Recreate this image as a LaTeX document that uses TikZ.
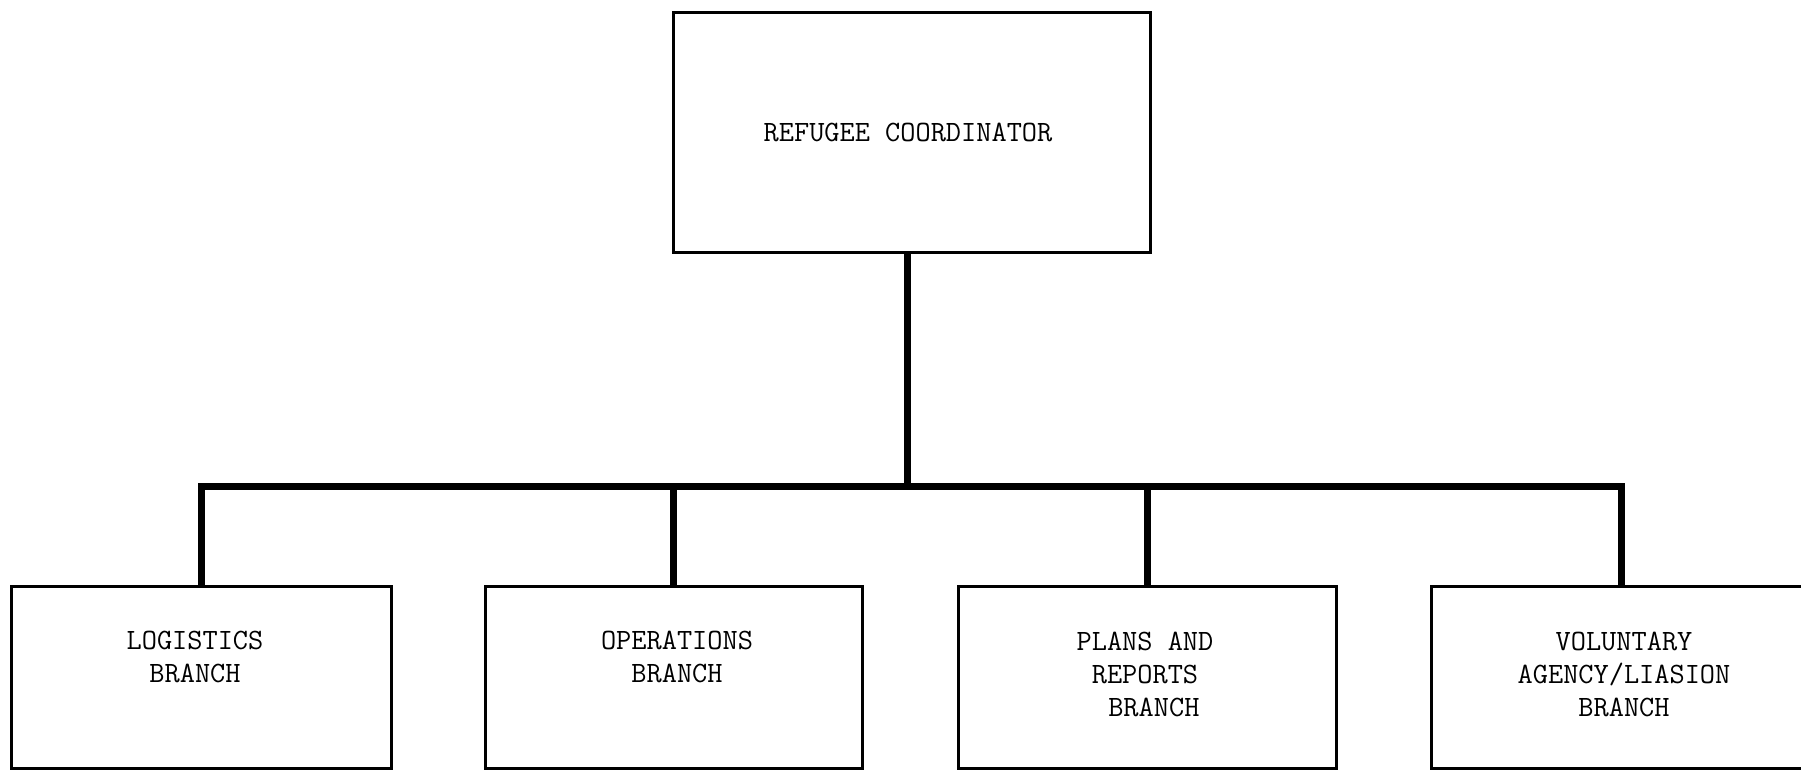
\documentclass[tikz,border=0pt]{standalone}
\begin{document}
\begin{tikzpicture}[x=1pt,y=-1pt,
  box/.style={draw=black,line width=3pt,rectangle,inner sep=0pt},
  conn/.style={draw=black,line width=7pt,line join=miter},
  lbl/.style={font=\ttfamily\fontsize{29.5}{33}\selectfont,align=center,inner sep=0pt}]
\useasboundingbox (0,0) rectangle (1801,771);
\clip (0,0) rectangle (1801,771);
% boxes
\node[box,minimum width=477pt,minimum height=240pt] (top) at (911.5,132) {};
\node[box,minimum width=380pt,minimum height=182pt] (log) at (201.5,677) {};
\node[box,minimum width=377pt,minimum height=182pt] (ops) at (673.5,677) {};
\node[box,minimum width=378pt,minimum height=182pt] (pla) at (1147,677) {};
\node[box,minimum width=380pt,minimum height=182pt] (vol) at (1621,677) {};
% labels
\node[lbl] (ttop) at (908,132) {REFUGEE COORDINATOR};
\node[lbl] (tlog) at (195,657) {LOGISTICS\\BRANCH};
\node[lbl] (tops) at (677,657) {OPERATIONS\\BRANCH};
\node[lbl] (tpla) at (1145,674) {PLANS AND\\REPORTS\\\hspace*{0.6em}BRANCH};
\node[lbl] (tvol) at (1624,674) {VOLUNTARY\\AGENCY/LIASION\\BRANCH};
% connectors
\coordinate (j) at (907,486);
\draw[conn] (top.south -| j) -- (j);
\draw[conn] (log.north) -- (log.north |- j) -- (vol.north |- j) -- (vol.north);
\draw[conn] (ops.north) -- (ops.north |- j);
\draw[conn] (pla.north) -- (pla.north |- j);
\end{tikzpicture}
\end{document}
